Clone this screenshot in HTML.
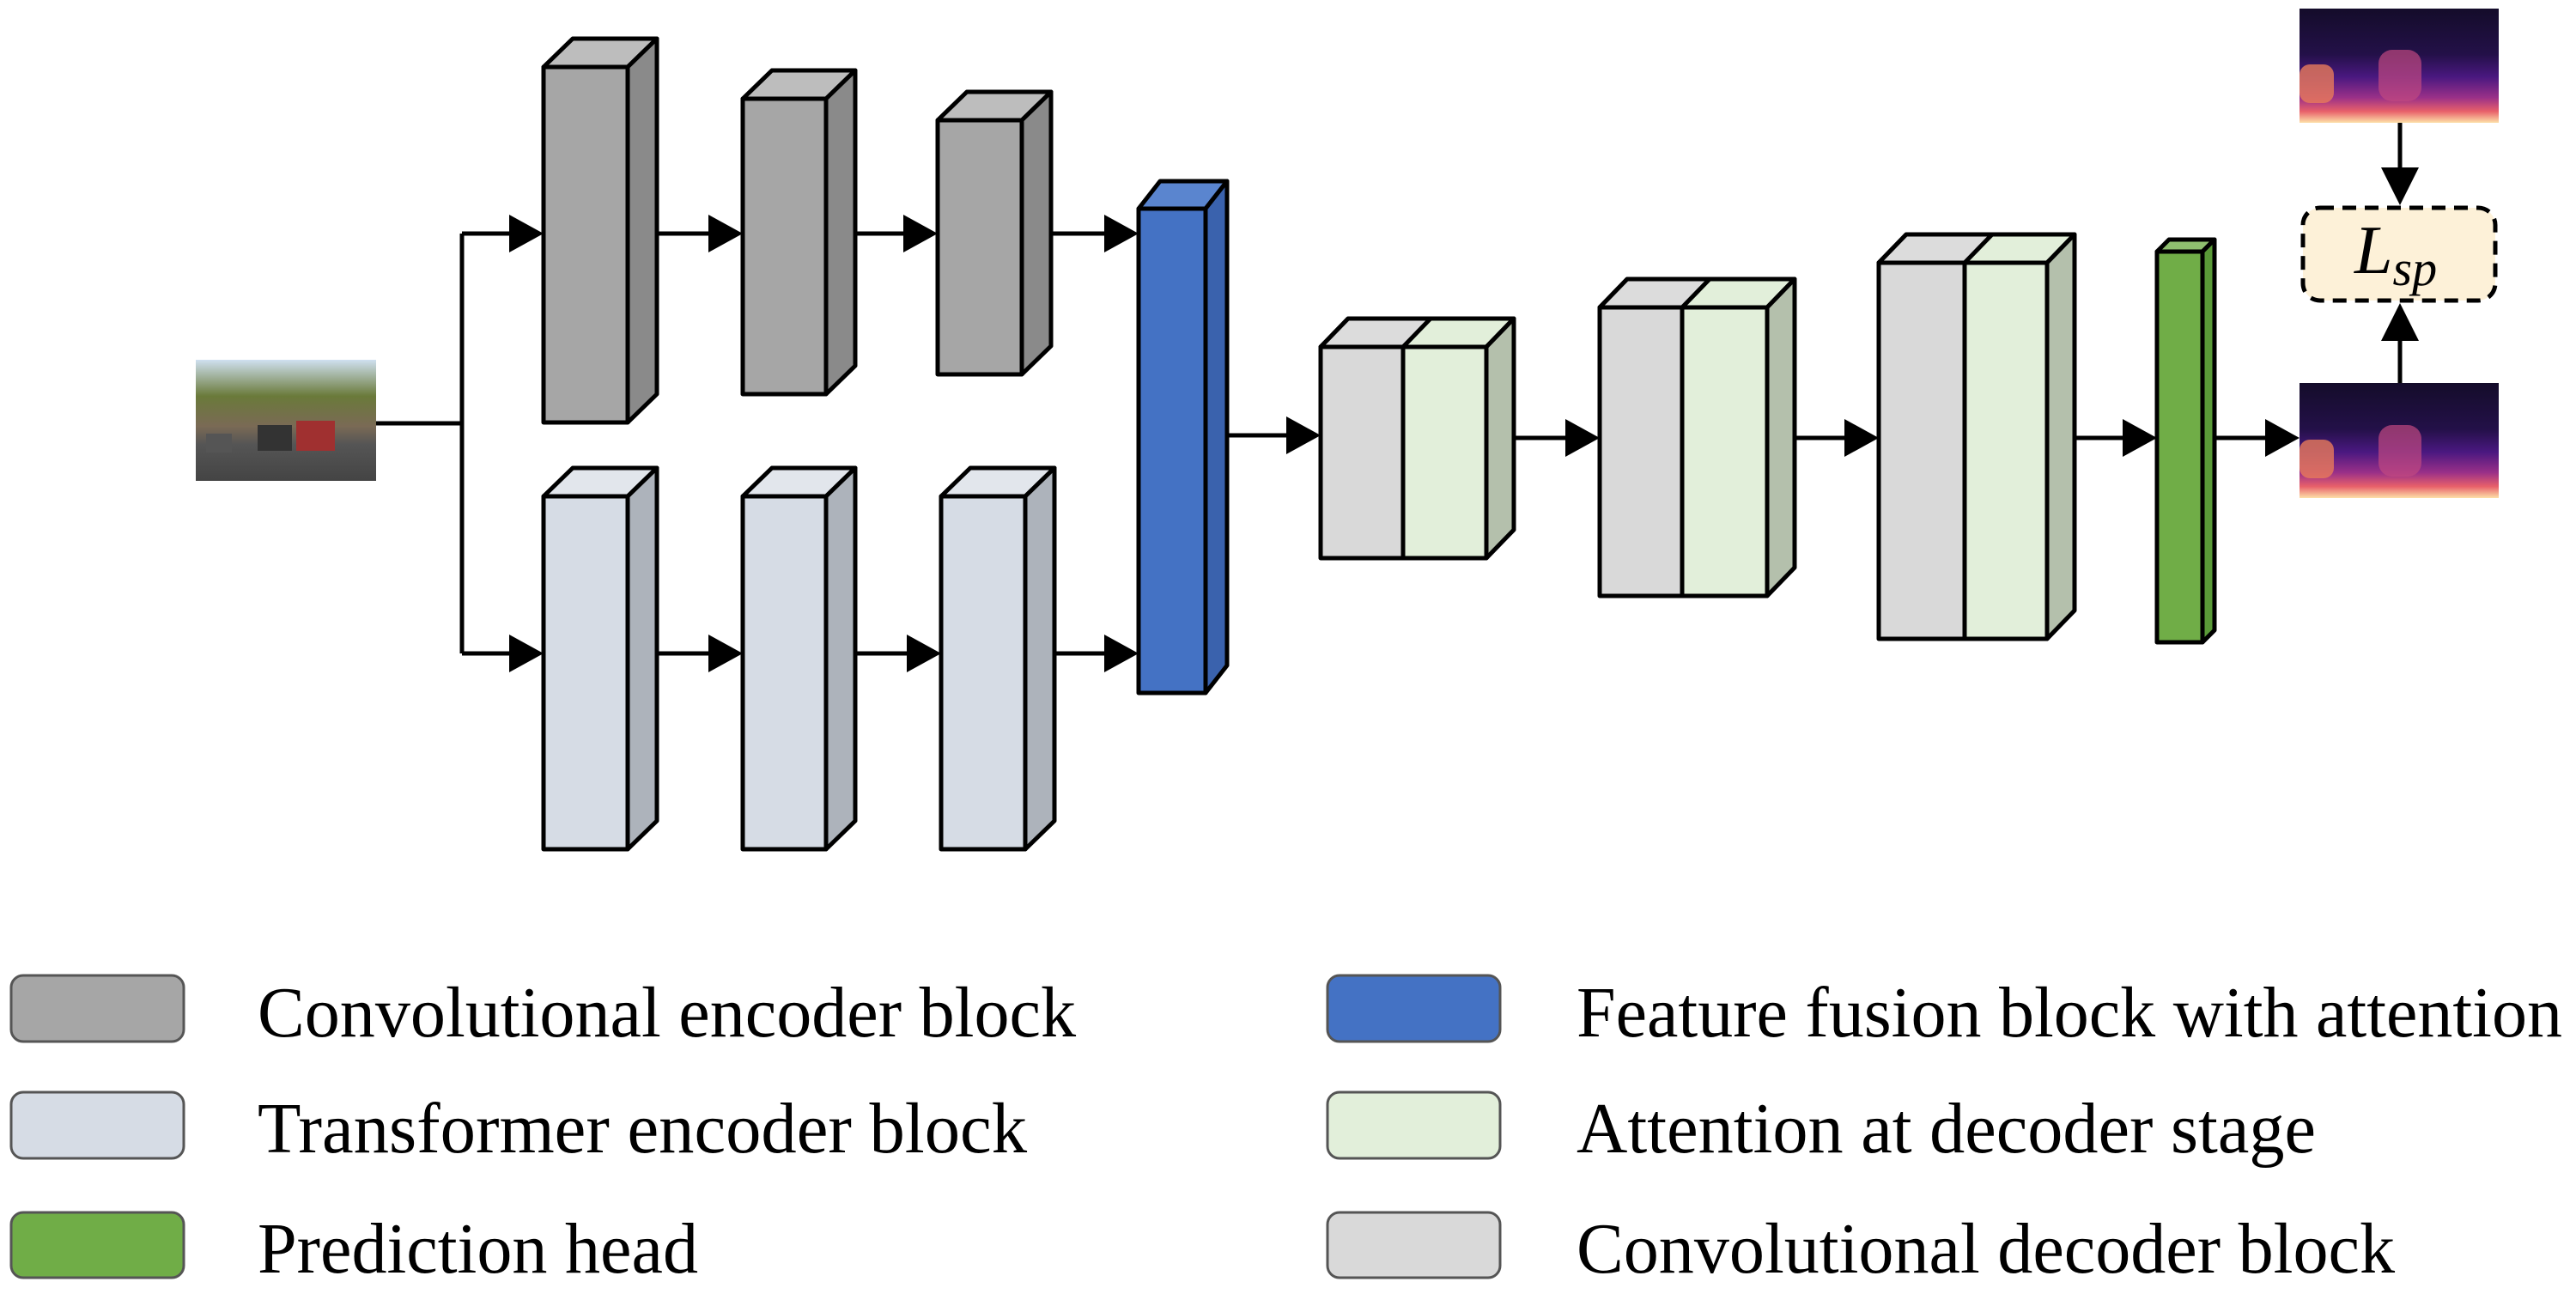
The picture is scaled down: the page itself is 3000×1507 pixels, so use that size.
<!DOCTYPE html>
<html><head><meta charset="utf-8"><style>html,body{margin:0;padding:0;background:#fff}svg{display:block}</style></head>
<body>
<svg width="3000" height="1507" viewBox="0 0 3000 1507" xmlns="http://www.w3.org/2000/svg">
<defs>
<linearGradient id="dep" x1="0" y1="0" x2="0" y2="1">
<stop offset="0" stop-color="#140c2a"/><stop offset="0.4" stop-color="#231048"/><stop offset="0.6" stop-color="#4a1880"/><stop offset="0.78" stop-color="#9a3088"/><stop offset="0.9" stop-color="#e8606a"/><stop offset="1" stop-color="#fde0a8"/>
</linearGradient>
<linearGradient id="img" x1="0" y1="0" x2="0" y2="1">
<stop offset="0" stop-color="#cfe0f0"/><stop offset="0.3" stop-color="#6a7a3a"/><stop offset="0.55" stop-color="#7a6a55"/><stop offset="0.7" stop-color="#555"/><stop offset="1" stop-color="#444"/>
</linearGradient>
</defs>
<g stroke="#000" stroke-width="5" stroke-linejoin="round">
<path d="M633 78 L667 45 L765 45 L731 78 Z" fill="#bdbdbd"/><path d="M731 78 L765 45 L765 459 L731 492 Z" fill="#8a8a8a"/><rect x="633" y="78" width="98" height="414" fill="#a6a6a6"/>
<path d="M865 115 L899 82 L996 82 L962 115 Z" fill="#bdbdbd"/><path d="M962 115 L996 82 L996 426 L962 459 Z" fill="#8a8a8a"/><rect x="865" y="115" width="97" height="344" fill="#a6a6a6"/>
<path d="M1092 140 L1126 107 L1224 107 L1190 140 Z" fill="#bdbdbd"/><path d="M1190 140 L1224 107 L1224 403 L1190 436 Z" fill="#8a8a8a"/><rect x="1092" y="140" width="98" height="296" fill="#a6a6a6"/>
<path d="M633 578 L667 545 L765 545 L731 578 Z" fill="#e2e6ec"/><path d="M731 578 L765 545 L765 956 L731 989 Z" fill="#adb3bb"/><rect x="633" y="578" width="98" height="411" fill="#d6dce5"/>
<path d="M865 578 L899 545 L996 545 L962 578 Z" fill="#e2e6ec"/><path d="M962 578 L996 545 L996 956 L962 989 Z" fill="#adb3bb"/><rect x="865" y="578" width="97" height="411" fill="#d6dce5"/>
<path d="M1096 578 L1130 545 L1228 545 L1194 578 Z" fill="#e2e6ec"/><path d="M1194 578 L1228 545 L1228 956 L1194 989 Z" fill="#adb3bb"/><rect x="1096" y="578" width="98" height="411" fill="#d6dce5"/>
<path d="M1326 243 L1351 211 L1429 211 L1404 243 Z" fill="#5a85cf"/><path d="M1404 243 L1429 211 L1429 775 L1404 807 Z" fill="#3a62ad"/><rect x="1326" y="243" width="78" height="564" fill="#4472c4"/>
<path d="M1538 404 L1570 371 L1763 371 L1731 404 Z" fill="#e2efda"/><path d="M1538 404 L1570 371 L1666 371 L1634 404 Z" fill="#dcdcdc"/><path d="M1731 404 L1763 371 L1763 617 L1731 650 Z" fill="#b4c0ac"/><rect x="1538" y="404" width="96" height="246" fill="#d9d9d9"/><rect x="1634" y="404" width="97" height="246" fill="#e2efda"/>
<path d="M1863 358 L1895 325 L2090 325 L2058 358 Z" fill="#e2efda"/><path d="M1863 358 L1895 325 L1991 325 L1959 358 Z" fill="#dcdcdc"/><path d="M2058 358 L2090 325 L2090 661 L2058 694 Z" fill="#b4c0ac"/><rect x="1863" y="358" width="96" height="336" fill="#d9d9d9"/><rect x="1959" y="358" width="99" height="336" fill="#e2efda"/>
<path d="M2188 306 L2220 273 L2416 273 L2384 306 Z" fill="#e2efda"/><path d="M2188 306 L2220 273 L2320 273 L2288 306 Z" fill="#dcdcdc"/><path d="M2384 306 L2416 273 L2416 711 L2384 744 Z" fill="#b4c0ac"/><rect x="2188" y="306" width="100" height="438" fill="#d9d9d9"/><rect x="2288" y="306" width="96" height="438" fill="#e2efda"/>
<path d="M2512 293 L2526 279 L2579 279 L2565 293 Z" fill="#8fbf6f"/><path d="M2565 293 L2579 279 L2579 734 L2565 748 Z" fill="#5a9a38"/><rect x="2512" y="293" width="53" height="455" fill="#70ad47"/>
</g>
<rect x="228" y="419" width="210" height="141" fill="url(#img)"/>
<rect x="300" y="495" width="40" height="30" fill="#333"/><rect x="345" y="490" width="45" height="35" fill="#a03030"/><rect x="240" y="505" width="30" height="22" fill="#555"/>
<rect x="2678" y="10" width="232" height="133" fill="url(#dep)"/>
<rect x="2678" y="75" width="40" height="45" rx="12" fill="#e87a5a" opacity="0.8"/><rect x="2770" y="58" width="50" height="60" rx="16" fill="#c04880" opacity="0.7"/>
<rect x="2678" y="446" width="232" height="134" fill="url(#dep)"/>
<rect x="2678" y="512" width="40" height="45" rx="12" fill="#e87a5a" opacity="0.8"/><rect x="2770" y="495" width="50" height="60" rx="16" fill="#c04880" opacity="0.7"/>
<g stroke="#000" stroke-width="5" fill="none">
<path d="M438 493 H538 M538 272 V761 M538 272 H600 M538 761 H600"/>
<path d="M765 272 H830 M996 272 H1055 M1224 272 H1290"/>
<path d="M765 761 H830 M996 761 H1060 M1228 761 H1290"/>
<path d="M1429 507 H1500 M1763 510 H1828 M2090 510 H2152 M2416 510 H2476 M2579 510 H2640"/>
<path d="M2795 143 V195 M2795 446 V395"/>
</g>
<g fill="#000">
<path d="M593 250 L633 272 L593 294 Z"/><path d="M825 250 L865 272 L825 294 Z"/><path d="M1052 250 L1092 272 L1052 294 Z"/><path d="M1286 250 L1326 272 L1286 294 Z"/>
<path d="M593 739 L633 761 L593 783 Z"/><path d="M825 739 L865 761 L825 783 Z"/><path d="M1056 739 L1096 761 L1056 783 Z"/><path d="M1286 739 L1326 761 L1286 783 Z"/>
<path d="M1498 485 L1538 507 L1498 529 Z"/><path d="M1823 488 L1863 510 L1823 532 Z"/><path d="M2148 488 L2188 510 L2148 532 Z"/><path d="M2472 488 L2512 510 L2472 532 Z"/><path d="M2638 488 L2678 510 L2638 532 Z"/>
<path d="M2773 195 L2817 195 L2795 239 Z"/><path d="M2773 397 L2817 397 L2795 353 Z"/>
</g>
<rect x="2682" y="242" width="224" height="108" rx="20" fill="#fdf1d8" stroke="#000" stroke-width="5" stroke-dasharray="16 10"/>
<text x="2742" y="318" font-family="Liberation Serif, serif" font-style="italic" font-size="80">L<tspan font-size="58" dy="14">sp</tspan></text>
<g stroke="#555" stroke-width="3">
<rect x="13" y="1136" width="201" height="77" rx="14" fill="#a6a6a6"/>
<rect x="13" y="1272" width="201" height="77" rx="14" fill="#d6dce5"/>
<rect x="13" y="1412" width="201" height="76" rx="14" fill="#70ad47"/>
<rect x="1546" y="1136" width="201" height="77" rx="14" fill="#4472c4"/>
<rect x="1546" y="1272" width="201" height="77" rx="14" fill="#e2efda"/>
<rect x="1546" y="1412" width="201" height="76" rx="14" fill="#d9d9d9"/>
</g>
<g font-family="Liberation Serif, serif" font-size="84" fill="#000">
<text x="300" y="1207" textLength="953" lengthAdjust="spacingAndGlyphs">Convolutional encoder block</text>
<text x="300" y="1342" textLength="896" lengthAdjust="spacingAndGlyphs">Transformer encoder block</text>
<text x="300" y="1482" textLength="513" lengthAdjust="spacingAndGlyphs">Prediction head</text>
<text x="1836" y="1207" textLength="1148" lengthAdjust="spacingAndGlyphs">Feature fusion block with attention</text>
<text x="1836" y="1342" textLength="861" lengthAdjust="spacingAndGlyphs">Attention at decoder stage</text>
<text x="1836" y="1482" textLength="953" lengthAdjust="spacingAndGlyphs">Convolutional decoder block</text>
</g>
</svg>
</body></html>
